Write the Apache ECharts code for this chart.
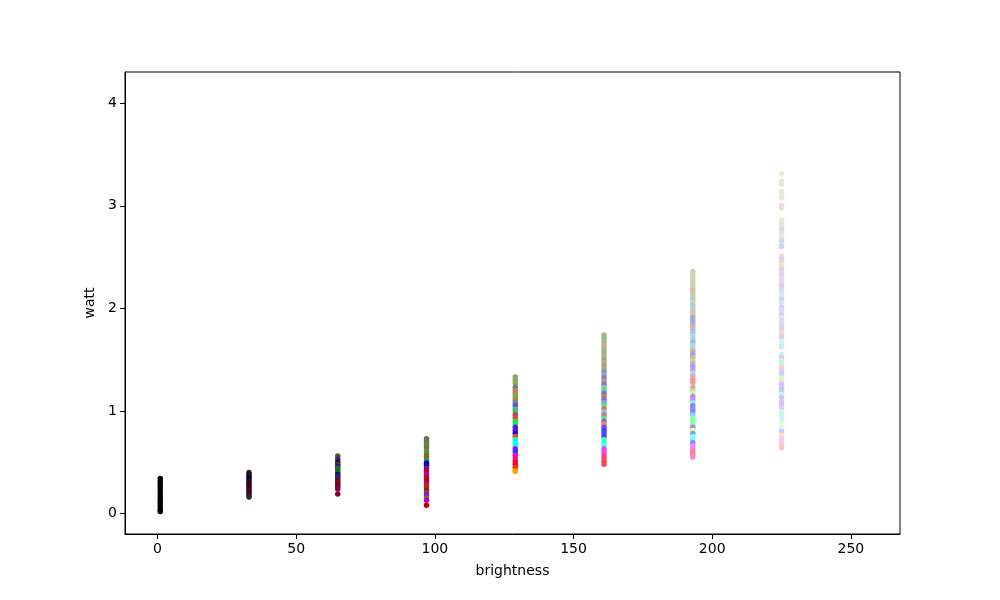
<!DOCTYPE html>
<html>
<head>
<meta charset="utf-8">
<script src="https://cdn.jsdelivr.net/npm/echarts@6/dist/echarts.min.js"></script>
<style>html,body{margin:0;padding:0;background:#fff}#c{width:1000px;height:600px}</style>
</head>
<body>
<div id="c"></div>
<script>
// brightness levels (x) of each measured column
const brightness = [1, 33, 65, 97, 129, 161, 193, 225];
// each point: [watt, LED hue (deg), LED saturation (%)]
const col1 = [[0.34,0,0],[0.31,0,0],[0.28,0,0],[0.25,0,0],[0.22,0,0],[0.19,0,0],[0.16,0,0],[0.13,0,0],[0.10,0,0],[0.07,0,0],[0.04,0,0],[0.02,0,0]];
const col33 = [[0.40,60,30],[0.38,250,60],[0.36,350,60],[0.34,240,100],[0.32,270,70],[0.30,0,100],[0.28,230,90],[0.26,340,100],[0.24,355,90],[0.22,320,100],[0.20,10,80],[0.18,300,90],[0.16,80,40]];
const col65 = [[0.56,60,30],[0.53,250,30],[0.50,240,80],[0.48,20,60],[0.46,270,70],[0.44,180,50],[0.42,120,100],[0.40,130,70],[0.38,230,100],[0.36,280,80],[0.34,220,90],[0.32,350,100],[0.30,330,100],[0.28,0,100],[0.26,345,90],[0.24,320,100],[0.19,340,100]];
const col97 = [[0.73,80,20],[0.71,70,25],[0.69,90,20],[0.67,60,25],[0.64,100,40],[0.61,60,30],[0.58,110,50],[0.55,25,60],[0.52,130,60],[0.49,240,100],[0.47,245,100],[0.44,275,80],[0.41,355,100],[0.38,310,100],[0.35,340,100],[0.32,0,100],[0.29,320,90],[0.26,10,80],[0.23,5,100],[0.20,210,50],[0.18,290,70],[0.15,30,50],[0.13,300,100],[0.08,0,100]];
const col129 = [[1.33,85,30],[1.30,90,35],[1.27,80,30],[1.23,220,20],[1.20,30,50],[1.17,35,45],[1.14,110,45],[1.11,25,50],[1.08,200,35],[1.05,260,40],[1.02,190,50],[0.99,130,55],[0.96,350,50],[0.93,10,60],[0.90,130,75],[0.87,140,70],[0.84,250,75],[0.81,260,85],[0.78,240,90],[0.75,15,85],[0.72,170,100],[0.69,180,100],[0.66,175,100],[0.63,280,100],[0.60,225,100],[0.57,310,100],[0.54,325,100],[0.51,350,100],[0.48,355,100],[0.45,10,100],[0.42,25,100],[0.41,40,100]];
const col161 = [[1.74,95,30],[1.71,100,25],[1.68,90,30],[1.65,70,25],[1.62,40,35],[1.59,100,30],[1.56,30,35],[1.53,110,35],[1.50,20,40],[1.47,80,25],[1.44,15,45],[1.41,120,30],[1.38,230,30],[1.35,200,25],[1.32,240,40],[1.29,20,45],[1.26,250,50],[1.23,180,40],[1.20,120,50],[1.17,230,60],[1.14,0,50],[1.11,250,55],[1.08,200,55],[1.05,130,60],[1.02,10,60],[0.99,170,55],[0.96,340,60],[0.93,130,70],[0.90,260,70],[0.87,20,80],[0.84,250,85],[0.81,240,100],[0.78,235,100],[0.75,245,100],[0.72,150,100],[0.69,165,100],[0.66,180,100],[0.63,290,100],[0.60,300,100],[0.57,330,100],[0.54,345,100],[0.51,355,100],[0.48,350,100]];
const col193 = [[2.36,75,30],[2.33,70,25],[2.30,60,30],[2.27,80,30],[2.24,40,40],[2.21,90,35],[2.18,20,50],[2.15,30,45],[2.12,100,30],[2.09,190,25],[2.06,60,30],[2.03,190,35],[2.00,180,30],[1.97,30,45],[1.94,100,35],[1.91,240,45],[1.88,230,50],[1.85,250,45],[1.82,10,50],[1.79,220,40],[1.76,200,45],[1.73,180,40],[1.70,190,45],[1.67,220,50],[1.64,180,50],[1.61,185,45],[1.58,0,50],[1.55,240,60],[1.52,10,55],[1.49,130,50],[1.46,330,60],[1.43,250,60],[1.40,270,65],[1.37,180,60],[1.34,300,60],[1.31,10,70],[1.28,5,70],[1.23,5,75],[1.20,120,75],[1.17,60,70],[1.14,260,80],[1.11,270,85],[1.08,170,80],[1.05,240,100],[1.02,235,100],[0.99,245,100],[0.96,200,100],[0.93,140,100],[0.90,130,100],[0.87,135,100],[0.84,260,100],[0.81,70,100],[0.78,230,100],[0.75,180,100],[0.72,185,100],[0.69,240,100],[0.66,300,100],[0.63,290,100],[0.60,0,100],[0.57,355,100],[0.55,320,100]];
const col225 = [[3.31,60,30],[3.24,70,30],[3.21,50,30],[3.14,40,35],[3.12,60,30],[3.08,50,30],[3.00,15,50],[2.98,20,45],[2.86,50,30],[2.83,80,25],[2.81,40,35],[2.77,240,40],[2.74,200,20],[2.69,90,25],[2.66,240,40],[2.61,220,40],[2.60,240,45],[2.51,25,60],[2.48,240,40],[2.45,0,40],[2.42,30,40],[2.38,260,50],[2.35,330,50],[2.32,250,45],[2.28,280,50],[2.25,0,45],[2.22,240,50],[2.19,270,55],[2.16,200,40],[2.12,180,40],[2.09,250,50],[2.06,200,45],[2.01,240,55],[1.98,300,50],[1.94,250,60],[1.91,180,50],[1.88,340,60],[1.85,220,50],[1.81,260,60],[1.78,330,60],[1.75,10,55],[1.72,250,60],[1.68,170,60],[1.65,180,55],[1.62,190,60],[1.55,140,60],[1.52,260,80],[1.49,130,60],[1.46,130,70],[1.42,0,60],[1.39,270,70],[1.36,250,80],[1.32,130,70],[1.29,30,80],[1.26,250,100],[1.22,240,100],[1.19,260,100],[1.16,130,80],[1.13,255,100],[1.09,270,100],[1.06,240,100],[1.03,280,100],[0.99,150,100],[0.96,140,100],[0.93,190,100],[0.89,150,100],[0.86,60,100],[0.83,180,100],[0.80,260,100],[0.76,30,100],[0.73,300,100],[0.70,310,100],[0.67,350,100],[0.64,355,100]];
const columns = [col1, col33, col65, col97, col129, col161, col193, col225];
const xTicks = [0, 50, 100, 150, 200, 250];
const yTicks = [0, 1, 2, 3, 4];

const series = brightness.map((b, i) => ({
  type: 'scatter',
  symbol: 'circle',
  symbolSize: 5.5,
  itemStyle: { opacity: 1 },
  data: columns[i].map(p => ({
    value: [b, p[0]],
    itemStyle: { color: 'hsl(' + p[1] + ',' + p[2] + '%,' + (b / 255 * 100).toFixed(1) + '%)' }
  }))
}));

const font = 'DejaVu Sans';
const chart = echarts.init(document.getElementById('c'));
chart.setOption({
  animation: false,
  backgroundColor: '#fff',
  grid: { left: 125, right: 100, top: 72, bottom: 66, show: true, borderColor: '#000', borderWidth: 1, backgroundColor: 'transparent' },
  xAxis: {
    type: 'value', min: -11.7, max: 267.7,
    name: 'brightness', nameLocation: 'middle', nameGap: 30,
    nameTextStyle: { color: '#000', fontSize: 14, fontFamily: font },
    axisLine: { show: true, onZero: false, lineStyle: { color: '#000', width: 1 } },
    axisTick: { show: true, length: 5, customValues: xTicks, lineStyle: { color: '#000' } },
    axisLabel: { color: '#000', fontSize: 14, fontFamily: font, margin: 8, customValues: xTicks },
    splitLine: { show: false }
  },
  yAxis: {
    type: 'value', min: -0.2, max: 4.305,
    name: 'watt', nameLocation: 'middle', nameGap: 26, nameRotate: 90,
    nameTextStyle: { color: '#000', fontSize: 14, fontFamily: font },
    axisLine: { show: true, onZero: false, lineStyle: { color: '#000', width: 1 } },
    axisTick: { show: true, length: 5, customValues: yTicks, lineStyle: { color: '#000' } },
    axisLabel: { color: '#000', fontSize: 14, fontFamily: font, margin: 8, padding: [4, 0, 0, 0], customValues: yTicks },
    splitLine: { show: false }
  },
  series: series
});
</script>
</body>
</html>
